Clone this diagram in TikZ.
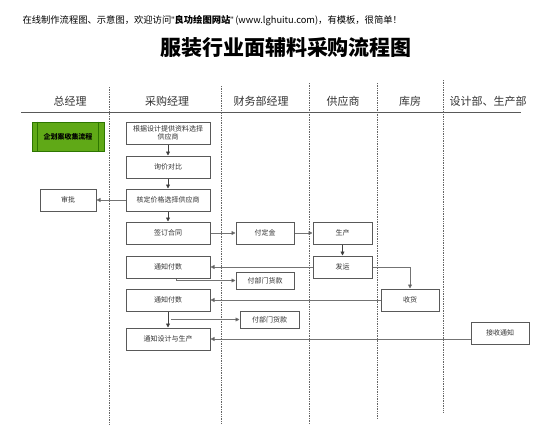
\documentclass[tikz,border=0pt]{standalone}
\usepackage{fontspec}
\setmainfont{Noto Sans CJK SC}
\newfontfamily\latinfont{Liberation Sans}
\usepackage{tikz}
\usetikzlibrary{arrows.meta}
\definecolor{boxline}{HTML}{595959}
\definecolor{txtgray}{HTML}{333333}
\definecolor{planfill}{HTML}{60A917}
\definecolor{planline}{HTML}{2D7600}

\begin{document}
\begin{tikzpicture}[x=1pt,y=-1pt,
  box/.style={draw=boxline,fill=white,line width=1pt,minimum width=84pt,minimum height=22pt,inner sep=1pt,align=center,font=\fontsize{7}{8.5}\selectfont,text=txtgray},
  smallbox/.style={box,minimum width=58pt,minimum height=17pt},
  lane/.style={draw=black!60,densely dotted,line width=0.7pt},
  arr/.style={draw=black!55,line width=0.8pt,-{Triangle[length=4pt,width=4pt,fill=black!80]}},
  head/.style={font=\fontsize{11}{13}\selectfont,text=txtgray}]
\useasboundingbox (0,0) rectangle (544,437);

\node[anchor=west,font=\fontsize{9.3}{11}\selectfont] (intro) at (19,21) {在线制作流程图、示意图，欢迎访问{\latinfont "}\textbf{良功绘图网站}{\latinfont "}\,(www.lghuitu.com)，有模板，很简单！};
\node[font=\fontsize{21}{24}\selectfont\bfseries] (title) at (286,48) {服装行业面辅料采购流程图};

% swimlane heads
\node[head] (h1) at (70,101) {总经理};
\node[head] (h2) at (167,101) {采购经理};
\node[head] (h3) at (261,101) {财务部经理};
\node[head] (h4) at (343,101) {供应商};
\node[head] (h5) at (410,101) {库房};
\node[head] (h6) at (488,101) {设计部、生产部};
\draw[draw=boxline,line width=0.9pt] (21,112) -- (521,112);
\foreach \x/\t/\b in {109/87/424,221/86/424,309/83/424,377/83/418,443/80/413}{
\draw[lane] (\x,\t) -- (\x,\b);
}

% boxes
\node[box,fill=planfill,draw=planline,minimum width=72pt,minimum height=29pt,text=black] (plan) at (68,136.5) {\textbf{企划案收集流程}};
\draw[planline,line width=0.8pt] ([xshift=6pt]plan.north west) -- ([xshift=6pt]plan.south west);
\draw[planline,line width=0.8pt] ([xshift=-6pt]plan.north east) -- ([xshift=-6pt]plan.south east);
\node[box] (select) at (168,133) {根据设计提供资料选择\\供应商};
\node[box] (inquiry) at (168,167) {询价对比};
\node[box] (confirm) at (168,200) {核定价格选择供应商};
\node[box,minimum width=56pt] (approve) at (68,200) {审批};
\node[box] (contract) at (168,233) {签订合同};
\node[box,minimum width=58pt] (deposit) at (265,233) {付定金};
\node[box,minimum width=59pt] (produce) at (342.5,233) {生产};
\node[box] (notify1) at (168,267) {通知付数};
\node[box,minimum width=59pt] (ship) at (342.5,267) {发运};
\node[smallbox] (pay1) at (265,280.5) {付部门货款};
\node[box] (notify2) at (168,300) {通知付数};
\node[box,minimum width=58pt] (receive) at (410,300) {收货};
\node[smallbox,minimum width=59pt] (pay2) at (269.5,319.5) {付部门货款};
\node[box] (design) at (168,339) {通知设计与生产};
\node[box,minimum width=58pt] (accept) at (500,333) {接收通知};

% flow
\draw[arr,draw=black!75] (select) -- (inquiry);
\draw[arr,draw=black!75] (inquiry) -- (confirm);
\draw[arr,draw=black!75] (confirm) -- (contract);
\draw[arr] (confirm) -- (approve);
\draw[arr] (contract) -- (deposit);
\draw[arr] (deposit) -- (produce);
\draw[arr,draw=black!75] (produce) -- (ship);
\draw[arr] (ship) -- (notify1);
\draw[arr] (ship.east) -| (receive.north);
\draw[arr] ([xshift=8pt]notify1.south) |- (pay1.west);
\draw[arr] (receive) -- (notify2);
\draw[arr,draw=black!75] (notify2) -- (design);
\coordinate (split) at ([xshift=3pt]notify2.south |- pay2.west);
\draw[arr] (split) -- (pay2.west);
\draw[arr] (accept.west |- design.east) -- (design.east);
\end{tikzpicture}
\end{document}
